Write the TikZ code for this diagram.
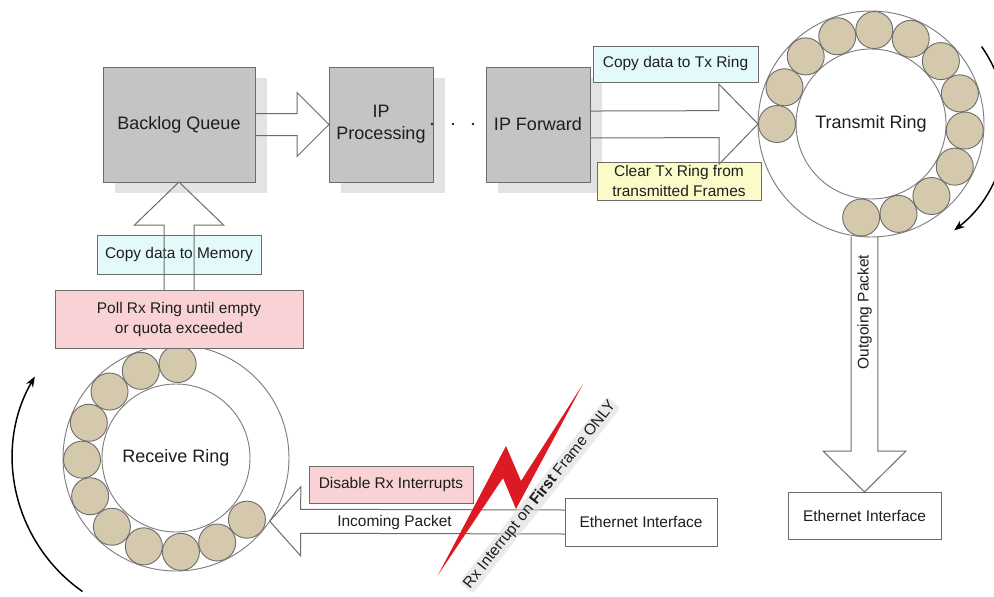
\documentclass[tikz,border=0pt]{standalone}
\usepackage{fontspec}
\setmainfont{Liberation Sans}
\usetikzlibrary{calc,arrows.meta,shadows}

\definecolor{ink}{HTML}{1E1E1E}
\definecolor{edge}{HTML}{6C6C6C}
\definecolor{boxgray}{HTML}{C4C4C4}
\definecolor{shadowgray}{HTML}{E3E3E3}
\definecolor{cyanfill}{HTML}{E4FAFA}
\definecolor{pinkfill}{HTML}{F8D2D5}
\definecolor{yellowfill}{HTML}{FBFBC9}
\definecolor{beadfill}{HTML}{D5C9AD}
\definecolor{beadedge}{HTML}{6E6E6E}
\definecolor{ringedge}{HTML}{7E7E7E}
\definecolor{boltred}{HTML}{DC1A24}
\definecolor{haze}{HTML}{DADADA}

\tikzset{
  every node/.style={text=ink, inner sep=0pt, outer sep=0pt},
  stage/.style={draw=edge, fill=boxgray, line width=0.75pt,
    font=\fontsize{13.5}{16.5}\selectfont, align=center,
    minimum height=86.25pt,
    drop shadow={shadow xshift=9pt, shadow yshift=-8.25pt, fill=shadowgray, opacity=1}},
  note/.style={draw=edge, line width=0.75pt,
    font=\fontsize{11.6}{14.3}\selectfont, align=center},
  ring/.style={circle, draw=ringedge, line width=0.7pt},
  bead/.style={circle, draw=beadedge, fill=beadfill, line width=0.7pt, minimum size=27.75pt},
  label/.style={font=\fontsize{11.6}{14.3}\selectfont},
  blockarrow/.style={draw=edge, line width=0.75pt, line join=miter},
  turn/.style={line width=1.1pt, black, -{Stealth[length=8pt, width=6pt]}},
}

% wide outlined arrow from #2 to #3: shaft half-width #4, head half-width #5, head length #6
\newcommand\fatarrow[6][]{%
  \coordinate (fa-base) at ($(#3)!#6!(#2)$);
  \draw[blockarrow,#1] ($(#2)!#4!90:(#3)$) -- ($(fa-base)!#4!90:(#3)$)
    -- ($(fa-base)!#5!90:(#3)$) -- (#3) -- ($(fa-base)!#5!-90:(#3)$)
    -- ($(fa-base)!#4!-90:(#3)$) -- ($(#2)!#4!-90:(#3)$);
}

\begin{document}
\begin{tikzpicture}[x=0.75pt,y=-0.75pt]
  \fill[white] (0,0) rectangle (994,596);
  \useasboundingbox (0,0) rectangle (994,596);

  % ---- transmit ring ----
  \node[ring, minimum size=169.5pt] (txring) at (871,124) {};
  \node[ring, minimum size=112.5pt, font=\fontsize{13.5}{16}\selectfont] (txinner) at (871,124) {Transmit Ring};
  \foreach \k in {0,...,12}{
    \pgfmathsetmacro\ang{180-23*\k}
    \node[bead] (txb\k) at ($(txring.center)+(\ang:70.5pt)$) {};
  }

  % ---- receive ring ----
  \node[ring, minimum size=169.5pt] (rxring) at (176,458) {};
  \node[ring, minimum size=111pt, font=\fontsize{13.5}{16}\selectfont] (rxinner) at (176,458) {Receive Ring};
  \foreach \k in {0,...,10}{
    \pgfmathsetmacro\ang{89+23*\k}
    \node[bead] (rxb\k) at ($(rxring.center)+(\ang:70.5pt)$) {};
  }

  % ---- processing stages ----
  \node[stage, minimum width=114pt] (bq)  at (179,124.5) {Backlog Queue};
  \node[stage, minimum width=78pt]  (ipp) at (381,124.5) {IP\\Processing};
  \node[stage, minimum width=78pt]  (ipf) at (538,124.5) {IP Forward};

  % ---- annotation boxes ----
  \node[note, fill=cyanfill, minimum width=123.75pt, minimum height=27pt] (txcopy) at (675.5,64) {Copy data to Tx Ring};
  \node[note, fill=yellowfill, minimum width=123pt, minimum height=28.5pt] (txclear) at (679,181) {Clear Tx Ring from\\transmitted Frames};
  \node[note, fill=cyanfill, minimum width=123pt, minimum height=29.25pt] (memcopy) at (179,254.5) {Copy data to Memory};
  \node[note, fill=pinkfill, minimum width=186pt, minimum height=43.5pt,
        font=\fontsize{11.6}{15}\selectfont] (poll) at (179,319) {Poll Rx Ring until empty\\or quota exceeded};
  \node[note, fill=pinkfill, minimum width=123pt, minimum height=27.75pt] (rxdis) at (391,484.5) {Disable Rx Interrupts};
  \node[note, minimum width=114pt, minimum height=36pt] (eth1) at (641,522) {Ethernet Interface};
  \node[note, minimum width=114.75pt, minimum height=35.25pt] (eth2) at (864.5,515.5) {Ethernet Interface};

  % ---- data flow arrows ----
  \fatarrow{bq.east}{ipp.west}{8.25pt}{24pt}{24pt}
  \fatarrow{poll.north}{bq.south}{11.25pt}{33.4pt}{32.25pt}
  \fatarrow{ipf.east}{txring.west}{10.1pt}{30pt}{29.25pt}
  \fatarrow{eth1.west}{rxring.-34.5}{9pt}{25.9pt}{23.25pt}
  \coordinate (txout) at (txring.266 -| eth2.north);
  \fatarrow{txout}{eth2.north}{10.1pt}{31.1pt}{30.75pt}

  \node[label] (inlabel) at (394.5,522) {Incoming Packet};
  \node[label, rotate=90] (outlabel) at (864.5,312) {Outgoing Packet};

  % ---- dots between stages ----
  \foreach \x in {432,453,473}
    \fill[ink] (\x,124) circle[radius=1.1pt];

  % ---- ring rotation ----
  \draw[turn] ($(txring.center)+(35:101.25pt)$) arc[start angle=35, end angle=-52, radius=101.25pt];
  \draw[turn] ($(rxring.center)+(235:122.25pt)$) arc[start angle=235, end angle=150, radius=122.25pt];

  % ---- interrupt bolt ----
  \fill[boltred] (438,575) -- (506,446) -- (521,481) -- (583,384)
    -- (516,509) -- (503,478) -- cycle;
  \node[label, rotate=51.5, fill=haze, fill opacity=0.55, text opacity=1,
        rounded corners=2pt, inner xsep=1pt, inner ysep=1.2pt] (irq) at (540,495)
    {Rx Interrupt on \textbf{First} Frame ONLY};
\end{tikzpicture}
\end{document}
